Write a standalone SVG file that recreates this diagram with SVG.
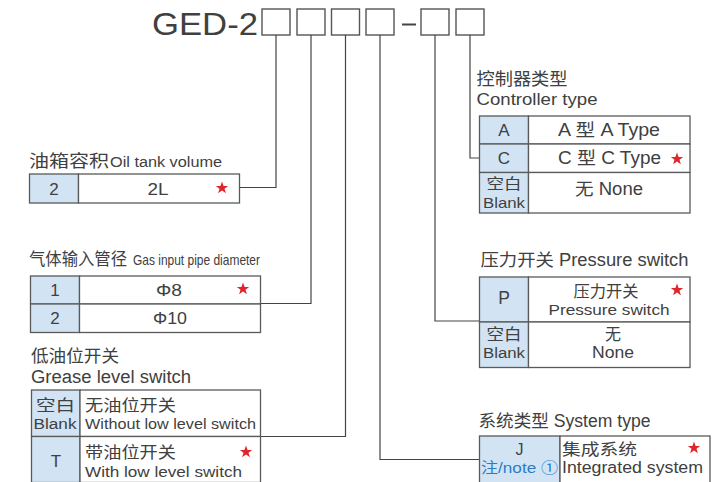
<svg xmlns="http://www.w3.org/2000/svg" width="719" height="482" viewBox="0 0 719 482">
<style>
text{font-family:"Liberation Sans","Noto Sans CJK SC",sans-serif;fill:#404040}
.c{text-anchor:middle}
.cell{fill:#fff;stroke:#5a5a5a;stroke-width:1.3}
.key{fill:#d2e4f4;stroke:#5a5a5a;stroke-width:1.3}
.box{fill:#fff;stroke:#555;stroke-width:1.4}
.ln{fill:none;stroke:#444;stroke-width:1.2}
.star{fill:#e0262d}
.t16{font-size:16px}
.t17{font-size:17px}
.note{fill:#2b7cc4}
</style>
<defs>
<path id="star" d="M0,-6.5 L1.6,-2 6.2,-2 2.5,0.8 3.9,5.3 0,2.5 -3.9,5.3 -2.5,0.8 -6.2,-2 -1.6,-2Z"/>
</defs>

<g id="header">
<text x="152" y="35" font-size="31" textLength="106" lengthAdjust="spacingAndGlyphs">GED-2</text>
<rect class="box" x="262" y="9" width="28" height="26"/>
<rect class="box" x="297" y="9" width="28" height="26"/>
<rect class="box" x="331.5" y="9" width="28" height="26"/>
<rect class="box" x="366" y="9" width="28" height="26"/>
<line x1="402" y1="24.5" x2="416" y2="24.5" stroke="#444" stroke-width="2"/>
<rect class="box" x="421" y="9" width="28" height="26"/>
<rect class="box" x="456" y="9" width="28" height="26"/>
</g>

<g id="connectors">
<polyline class="ln" points="276,35 276,187.5 239,187.5"/>
<polyline class="ln" points="311,35 311,303.5 260.5,303.5"/>
<polyline class="ln" points="345.5,35 345.5,436.5 260.5,436.5"/>
<polyline class="ln" points="380,35 380,459.5 479.5,459.5"/>
<polyline class="ln" points="435,35 435,321 479.5,321"/>
<polyline class="ln" points="470,35 470,158 479.5,158"/>
</g>

<g id="oil-tank">
<text x="29" y="167" font-size="17" textLength="80" lengthAdjust="spacingAndGlyphs">油箱容积</text>
<text x="110" y="167" font-size="15.5" textLength="112" lengthAdjust="spacingAndGlyphs">Oil tank volume</text>
<rect class="key" x="29.5" y="174" width="49" height="29"/>
<rect class="cell" x="78.5" y="174" width="161" height="29"/>
<text class="c t17" x="54" y="195">2</text>
<text class="c t17" x="158" y="195" textLength="21" lengthAdjust="spacingAndGlyphs">2L</text>
<use href="#star" class="star" x="222" y="188"/>
</g>

<g id="gas-input">
<text x="29" y="265" font-size="17" textLength="98" lengthAdjust="spacingAndGlyphs">气体输入管径</text>
<text x="133" y="265" font-size="14.5" textLength="127" lengthAdjust="spacingAndGlyphs">Gas input pipe diameter</text>
<rect class="key" x="30.5" y="276" width="49" height="28"/>
<rect class="cell" x="79.5" y="276" width="181" height="28"/>
<rect class="key" x="30.5" y="304" width="49" height="28.5"/>
<rect class="cell" x="79.5" y="304" width="181" height="28.5"/>
<text class="c t17" x="55" y="296">1</text>
<text class="c t17" x="169" y="296" textLength="26" lengthAdjust="spacingAndGlyphs">Φ8</text>
<use href="#star" class="star" x="243" y="289"/>
<text class="c t17" x="55" y="324">2</text>
<text class="c t17" x="170" y="324" textLength="34" lengthAdjust="spacingAndGlyphs">Φ10</text>
</g>

<g id="grease-level">
<text x="31" y="362" font-size="17.5" textLength="88" lengthAdjust="spacingAndGlyphs">低油位开关</text>
<text x="31" y="383" font-size="18" textLength="160" lengthAdjust="spacingAndGlyphs">Grease level switch</text>
<rect class="key" x="31.5" y="390" width="48.5" height="46.5"/>
<rect class="cell" x="80" y="390" width="180.5" height="46.5"/>
<rect class="key" x="31.5" y="436.5" width="48.5" height="46"/>
<rect class="cell" x="80" y="436.5" width="180.5" height="46"/>
<text class="c" x="55.5" y="411" font-size="15.5" textLength="39" lengthAdjust="spacingAndGlyphs">空白</text>
<text class="c" x="55" y="429" font-size="15.5" textLength="43" lengthAdjust="spacingAndGlyphs">Blank</text>
<text x="85" y="411" font-size="15.5" textLength="91" lengthAdjust="spacingAndGlyphs">无油位开关</text>
<text x="85" y="429" font-size="15.5" textLength="171" lengthAdjust="spacingAndGlyphs">Without low level switch</text>
<text class="c t17" x="56" y="467">T</text>
<text x="85" y="458" font-size="15.5" textLength="91" lengthAdjust="spacingAndGlyphs">带油位开关</text>
<use href="#star" class="star" x="246" y="452"/>
<text x="85" y="477" font-size="15.5" textLength="157" lengthAdjust="spacingAndGlyphs">With low level switch</text>
</g>

<g id="controller-type">
<text x="476.5" y="85" font-size="17.5" textLength="91" lengthAdjust="spacingAndGlyphs">控制器类型</text>
<text x="476.5" y="105" font-size="17" textLength="121" lengthAdjust="spacingAndGlyphs">Controller type</text>
<rect class="key" x="479.5" y="116" width="49" height="28"/>
<rect class="cell" x="528.5" y="116" width="161.5" height="28"/>
<rect class="key" x="479.5" y="144" width="49" height="28.5"/>
<rect class="cell" x="528.5" y="144" width="161.5" height="28.5"/>
<rect class="key" x="479.5" y="172.5" width="49" height="40.5"/>
<rect class="cell" x="528.5" y="172.5" width="161.5" height="40.5"/>
<text class="c t17" x="504" y="136">A</text>
<text x="558" y="136" font-size="17.5" textLength="102" lengthAdjust="spacingAndGlyphs">A 型 A Type</text>
<text class="c t17" x="504" y="164">C</text>
<text x="558" y="164" font-size="17.5" textLength="103" lengthAdjust="spacingAndGlyphs">C 型 C Type</text>
<use href="#star" class="star" x="677" y="159"/>
<text class="c" x="504" y="189" font-size="15" textLength="35" lengthAdjust="spacingAndGlyphs">空白</text>
<text class="c" x="504" y="208" font-size="15" textLength="42" lengthAdjust="spacingAndGlyphs">Blank</text>
<text x="575" y="195" font-size="17.5" textLength="68" lengthAdjust="spacingAndGlyphs">无 None</text>
</g>

<g id="pressure-switch">
<text x="480.5" y="266" font-size="17.5" textLength="208" lengthAdjust="spacingAndGlyphs">压力开关 Pressure switch</text>
<rect class="key" x="479.5" y="277" width="49" height="45"/>
<rect class="cell" x="528.5" y="277" width="161.5" height="45"/>
<rect class="key" x="479.5" y="322" width="49" height="45.5"/>
<rect class="cell" x="528.5" y="322" width="161.5" height="45.5"/>
<text class="c" x="504" y="304" font-size="17.5">P</text>
<text class="c" x="606" y="297" font-size="16" textLength="65" lengthAdjust="spacingAndGlyphs">压力开关</text>
<use href="#star" class="star" x="677" y="290"/>
<text class="c" x="609" y="315" font-size="15.5" textLength="121" lengthAdjust="spacingAndGlyphs">Pressure switch</text>
<text class="c" x="504" y="340" font-size="15.5" textLength="35" lengthAdjust="spacingAndGlyphs">空白</text>
<text class="c" x="504" y="358" font-size="15.5" textLength="42" lengthAdjust="spacingAndGlyphs">Blank</text>
<text class="c" x="613" y="340" font-size="16">无</text>
<text class="c" x="613" y="358" font-size="16" textLength="42" lengthAdjust="spacingAndGlyphs">None</text>
</g>

<g id="system-type">
<text x="478.5" y="427" font-size="17.5" textLength="172" lengthAdjust="spacingAndGlyphs">系统类型 System type</text>
<rect class="key" x="479.5" y="436" width="80.5" height="47"/>
<rect class="cell" x="560" y="436" width="150" height="47"/>
<text class="c t16" x="519.5" y="455">J</text>
<text class="note" x="481" y="473" font-size="15" textLength="77" lengthAdjust="spacingAndGlyphs">注/note ①</text>
<text x="562" y="455" font-size="16" textLength="75" lengthAdjust="spacingAndGlyphs">集成系统</text>
<use href="#star" class="star" x="694" y="448"/>
<text x="562" y="473" font-size="16" textLength="141" lengthAdjust="spacingAndGlyphs">Integrated system</text>
</g>
</svg>
